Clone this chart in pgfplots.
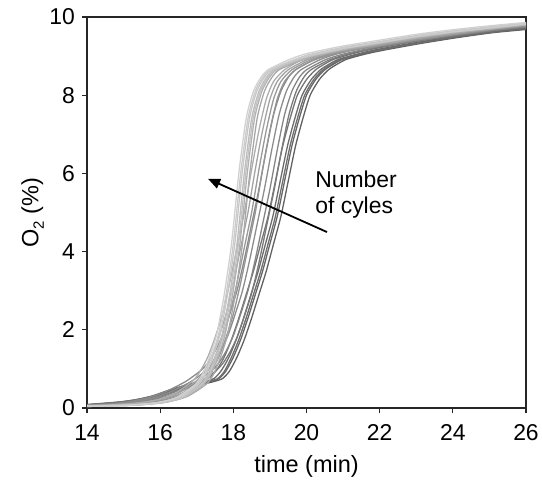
\documentclass[border=0pt]{standalone}
\usepackage{fontspec}
\setmainfont{Liberation Sans}
\usepackage{pgfplots}
\pgfplotsset{compat=1.18}
\usetikzlibrary{arrows.meta}

\begin{document}
\begin{tikzpicture}
\begin{axis}[
  scale only axis,
  width=219.5bp, height=195.5bp,
  xmin=14, xmax=26, ymin=0, ymax=10,
  xtick={14,16,...,26}, ytick={0,2,...,10},
  tick align=outside, major tick length=2.6bp,
  xtick pos=bottom, ytick pos=left,
  axis line style={line width=0.6bp, black!85},
  tick style={line width=0.6bp, black!85},
  /pgf/number format/assume math mode=true,
  tick label style={font=\fontsize{11.5}{13}\selectfont},
  label style={font=\fontsize{11.8}{13}\selectfont},
  xlabel={time (min)},
  ylabel={O\raisebox{-0.45ex}{\fontsize{7.5}{8}\selectfont 2} (\%)},
  xlabel style={at={(axis description cs:0.5,0)}, anchor=north, yshift=-20bp},
  ylabel style={at={(axis description cs:0,0.5)}, anchor=south, yshift=18bp},
  xticklabel style={yshift=-2bp},
  clip=true,
  every axis plot/.append style={smooth, tension=0.4, line width=0.65bp, mark=none},
]
% early cycles: later transition, darker lines
\addplot[black!62] coordinates {(14,0.08) (15.1,0.15) (15.6,0.22) (16.1,0.33) (16.6,0.48) (17.1,0.6) (17.4,0.66) (17.7,0.75) (17.9,0.95) (18.1,1.3) (18.3,1.75) (18.5,2.3) (18.7,2.9) (18.9,3.5) (19.1,4.2) (19.3,4.9) (19.5,5.8) (19.7,6.7) (19.9,7.4) (20.1,8.0) (20.35,8.4) (20.6,8.65) (20.85,8.8) (21.1,8.92) (21.6,9.05) (22.1,9.15) (23.1,9.32) (24.1,9.47) (25.1,9.6) (26,9.68)};
\addplot[black!60] coordinates {(14,0.08) (15,0.15) (15.5,0.22) (16,0.33) (16.5,0.48) (17,0.6) (17.3,0.66) (17.6,0.75) (17.8,0.95) (18.0,1.3) (18.2,1.75) (18.4,2.3) (18.6,2.9) (18.8,3.5) (19.0,4.2) (19.2,4.9) (19.4,5.8) (19.6,6.7) (19.8,7.4) (20.0,8.0) (20.25,8.4) (20.5,8.65) (20.75,8.8) (21,8.92) (21.5,9.05) (22,9.15) (23,9.32) (24,9.47) (25,9.6) (26,9.7)};
\addplot[black!57] coordinates {(14,0.09) (14.95,0.16) (15.45,0.23) (15.95,0.34) (16.45,0.5) (16.95,0.62) (17.25,0.68) (17.55,0.74) (17.75,0.93) (17.95,1.3) (18.15,1.75) (18.35,2.3) (18.55,2.9) (18.75,3.5) (18.95,4.2) (19.15,4.9) (19.35,5.8) (19.55,6.7) (19.75,7.4) (19.95,8.0) (20.2,8.4) (20.45,8.65) (20.7,8.8) (20.95,8.92) (21.45,9.05) (21.95,9.15) (22.95,9.32) (23.95,9.47) (24.95,9.6) (26,9.71)};
\addplot[black!58] coordinates {(14,0.07) (14.88,0.14) (15.38,0.21) (15.88,0.32) (16.38,0.47) (16.88,0.6) (17.18,0.66) (17.48,0.76) (17.68,0.97) (17.88,1.3) (18.08,1.75) (18.28,2.3) (18.48,2.9) (18.68,3.5) (18.88,4.2) (19.08,4.9) (19.28,5.8) (19.48,6.7) (19.68,7.4) (19.88,8.0) (20.13,8.4) (20.38,8.65) (20.63,8.8) (20.88,8.92) (21.38,9.05) (21.88,9.16) (22.88,9.33) (23.88,9.48) (24.88,9.61) (26,9.72)};
\addplot[black!55] coordinates {(14,0.08) (14.75,0.14) (15.25,0.2) (15.75,0.3) (16.25,0.46) (16.75,0.6) (17.05,0.67) (17.35,0.78) (17.55,0.98) (17.75,1.3) (17.95,1.75) (18.15,2.3) (18.35,2.9) (18.55,3.5) (18.75,4.2) (18.95,4.9) (19.15,5.8) (19.35,6.7) (19.55,7.4) (19.75,8.0) (20.0,8.4) (20.25,8.65) (20.5,8.8) (20.75,8.92) (21.25,9.06) (21.75,9.17) (22.75,9.34) (23.75,9.49) (24.75,9.62) (26,9.74)};
% intermediate cycles
\addplot[black!52] coordinates {(14,0.07) (15.12,0.12) (15.62,0.18) (16.12,0.28) (16.62,0.45) (17.12,0.68) (17.52,0.95) (17.72,1.15) (17.92,1.45) (18.12,1.85) (18.32,2.4) (18.52,3.0) (18.72,3.8) (18.92,4.7) (19.12,5.6) (19.32,6.6) (19.52,7.5) (19.72,8.1) (19.92,8.45) (20.12,8.65) (20.62,8.9) (21.12,9.05) (22.12,9.25) (23.12,9.4) (24.12,9.53) (25.12,9.65) (26,9.74)};
\addplot[black!48] coordinates {(14,0.07) (15,0.12) (15.5,0.18) (16,0.28) (16.5,0.45) (17,0.68) (17.4,0.95) (17.6,1.15) (17.8,1.45) (18.0,1.85) (18.2,2.4) (18.4,3.0) (18.6,3.8) (18.8,4.7) (19.0,5.6) (19.2,6.6) (19.4,7.5) (19.6,8.1) (19.8,8.45) (20,8.65) (20.5,8.9) (21,9.05) (22,9.25) (23,9.4) (24,9.53) (25,9.65) (26,9.75)};
\addplot[black!45] coordinates {(14,0.06) (14.85,0.11) (15.35,0.17) (15.85,0.27) (16.35,0.44) (16.85,0.68) (17.25,0.95) (17.45,1.15) (17.65,1.45) (17.85,1.85) (18.05,2.4) (18.25,3.0) (18.45,3.8) (18.65,4.7) (18.85,5.6) (19.05,6.6) (19.25,7.5) (19.45,8.1) (19.65,8.45) (19.85,8.65) (20.35,8.9) (20.85,9.06) (21.85,9.27) (22.85,9.42) (23.85,9.55) (24.85,9.67) (26,9.78)};
\addplot[black!46] coordinates {(14,0.07) (14.7,0.11) (15.2,0.17) (15.7,0.27) (16.2,0.44) (16.7,0.68) (17.1,0.95) (17.3,1.15) (17.5,1.45) (17.7,1.85) (17.9,2.4) (18.1,3.0) (18.3,3.8) (18.5,4.7) (18.7,5.6) (18.9,6.6) (19.1,7.5) (19.3,8.1) (19.5,8.45) (19.7,8.65) (20.2,8.9) (20.7,9.06) (21.7,9.27) (22.7,9.42) (23.7,9.55) (24.7,9.67) (26,9.78)};
\addplot[black!42] coordinates {(14,0.06) (15.2,0.1) (15.7,0.14) (16.2,0.22) (16.7,0.38) (17.2,0.7) (17.4,0.95) (17.6,1.3) (17.8,1.8) (18.0,2.4) (18.2,3.2) (18.4,4.1) (18.6,5.0) (18.8,6.1) (19.0,7.1) (19.2,7.9) (19.4,8.35) (19.7,8.65) (20.2,8.9) (20.7,9.04) (21.2,9.14) (22.2,9.29) (23.2,9.44) (24.2,9.57) (25.2,9.69) (26,9.77)};
\addplot[black!40] coordinates {(14,0.06) (15.1,0.1) (15.6,0.14) (16.1,0.22) (16.6,0.38) (17.1,0.7) (17.3,0.95) (17.5,1.3) (17.7,1.8) (17.9,2.4) (18.1,3.2) (18.3,4.1) (18.5,5.0) (18.7,6.1) (18.9,7.1) (19.1,7.9) (19.3,8.35) (19.6,8.65) (20.1,8.9) (20.6,9.05) (21.1,9.15) (22.1,9.3) (23.1,9.45) (24.1,9.58) (25.1,9.7) (26,9.79)};
\addplot[black!36] coordinates {(14,0.06) (15,0.1) (15.5,0.14) (16,0.22) (16.5,0.38) (17,0.7) (17.2,0.95) (17.4,1.3) (17.6,1.8) (17.8,2.4) (18.0,3.2) (18.2,4.1) (18.4,5.0) (18.6,6.1) (18.8,7.1) (19.0,7.9) (19.2,8.35) (19.5,8.65) (20,8.9) (20.5,9.05) (21,9.15) (22,9.3) (23,9.45) (24,9.58) (25,9.7) (26,9.8)};
\addplot[black!34] coordinates {(14,0.06) (15.25,0.08) (15.75,0.11) (16.25,0.17) (16.75,0.3) (17.25,0.6) (17.45,0.85) (17.65,1.3) (17.85,1.9) (18.05,2.9) (18.25,4.2) (18.45,6.0) (18.65,7.4) (18.85,8.1) (19.05,8.45) (19.25,8.65) (19.75,8.85) (20.25,9.0) (21.25,9.19) (22.25,9.34) (23.25,9.49) (24.25,9.61) (25.25,9.71) (26,9.8)};
\addplot[black!32] coordinates {(14,0.05) (14.9,0.09) (15.4,0.13) (15.9,0.21) (16.4,0.37) (16.9,0.7) (17.1,0.95) (17.3,1.3) (17.5,1.8) (17.7,2.4) (17.9,3.2) (18.1,4.1) (18.3,5.0) (18.5,6.1) (18.7,7.1) (18.9,7.9) (19.1,8.35) (19.4,8.65) (19.9,8.92) (20.4,9.07) (20.9,9.17) (21.9,9.33) (22.9,9.48) (23.9,9.6) (24.9,9.72) (26,9.82)};
% late cycles: earliest transition, lightest lines
\addplot[black!30] coordinates {(14,0.05) (15.18,0.07) (15.68,0.1) (16.18,0.15) (16.68,0.28) (17.18,0.6) (17.38,0.85) (17.58,1.3) (17.78,1.9) (17.98,2.9) (18.18,4.2) (18.38,6.0) (18.58,7.4) (18.78,8.1) (18.98,8.45) (19.18,8.65) (19.68,8.85) (20.18,9.0) (21.18,9.2) (22.18,9.35) (23.18,9.5) (24.18,9.62) (25.18,9.72) (26,9.8)};
\addplot[black!26] coordinates {(14,0.04) (15.1,0.06) (15.6,0.09) (16.1,0.14) (16.6,0.27) (17.1,0.6) (17.3,0.85) (17.5,1.3) (17.7,1.9) (17.9,2.9) (18.1,4.2) (18.3,6.0) (18.5,7.4) (18.7,8.1) (18.9,8.45) (19.1,8.65) (19.6,8.87) (20.1,9.02) (21.1,9.22) (22.1,9.37) (23.1,9.52) (24.1,9.64) (25.1,9.74) (26,9.84)};
\addplot[black!24] coordinates {(14,0.05) (15.14,0.07) (15.64,0.1) (16.14,0.15) (16.64,0.28) (17.14,0.6) (17.34,0.85) (17.54,1.3) (17.74,1.9) (17.94,2.9) (18.14,4.2) (18.34,6.0) (18.54,7.4) (18.74,8.1) (18.94,8.45) (19.14,8.65) (19.64,8.86) (20.14,9.01) (21.14,9.21) (22.14,9.36) (23.14,9.51) (24.14,9.63) (25.14,9.73) (26,9.83)};
\addplot[black!22] coordinates {(14,0.05) (15.04,0.07) (15.54,0.1) (16.04,0.15) (16.54,0.28) (17.04,0.6) (17.24,0.85) (17.44,1.3) (17.64,1.9) (17.84,2.9) (18.04,4.2) (18.24,6.0) (18.44,7.4) (18.64,8.1) (18.84,8.45) (19.04,8.65) (19.54,8.86) (20.04,9.03) (21.04,9.23) (22.04,9.38) (23.04,9.53) (24.04,9.65) (25.04,9.75) (26,9.85)};
\addplot[black!20] coordinates {(14,0.05) (15,0.07) (15.5,0.1) (16,0.15) (16.5,0.28) (17,0.6) (17.2,0.85) (17.4,1.3) (17.6,1.9) (17.8,2.9) (18.0,4.2) (18.2,6.0) (18.4,7.4) (18.6,8.1) (18.8,8.45) (19.0,8.65) (19.5,8.85) (20,9.0) (21,9.2) (22,9.35) (23,9.5) (24,9.62) (25,9.72) (26,9.82)};
\addplot[black!18] coordinates {(14,0.04) (14.95,0.06) (15.45,0.09) (15.95,0.14) (16.45,0.27) (16.95,0.6) (17.15,0.85) (17.35,1.3) (17.55,1.9) (17.75,2.9) (17.95,4.2) (18.15,6.0) (18.35,7.4) (18.55,8.1) (18.75,8.45) (18.95,8.65) (19.45,8.88) (19.95,9.05) (20.95,9.25) (21.95,9.4) (22.95,9.55) (23.95,9.67) (24.95,9.77) (26,9.86)};

% annotation: shift with increasing cycle number
\draw[-{Triangle[length=6bp,width=5bp]}, line width=0.9bp, black]
  (axis cs:20.56,4.50) -- (axis cs:17.31,5.86);
\node[anchor=west, align=left, font=\fontsize{11.5}{13}\selectfont]
  at (axis cs:20.05,5.45) {Number\\of cyles};
\end{axis}
\pgfresetboundingbox
\path[use as bounding box] (current axis.south west) ++(-43.5bp,-38.5bp)
  rectangle ([shift={(8bp,8.5bp)}]current axis.north east);
\end{tikzpicture}
\end{document}
